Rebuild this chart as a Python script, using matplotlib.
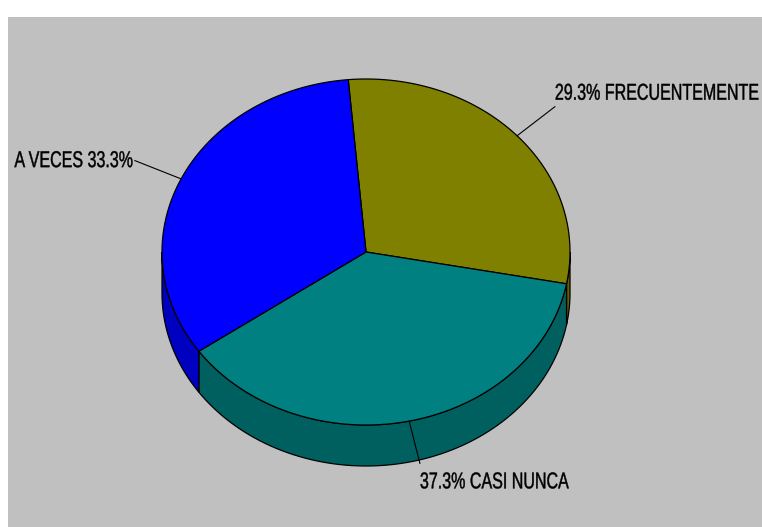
import numpy as np
import matplotlib
matplotlib.use("Agg")
import matplotlib.pyplot as plt
from matplotlib.patches import Polygon, Rectangle
from matplotlib.patheffects import AbstractPathEffect
from matplotlib.transforms import Affine2D

# frequency of each answer, in percent
categories = ["FRECUENTEMENTE", "CASI NUNCA", "A VECES"]
percents = [29.3, 37.3, 33.3]
top_colors = ["#808000", "#008080", "#0000FF"]
side_colors = ["#606000", "#006060", "#0000C0"]

plt.rcParams["font.family"] = ["Liberation Sans", "DejaVu Sans"]


class Narrow(AbstractPathEffect):
    """Squeeze glyphs horizontally around a fixed x (display pixels)."""

    def __init__(self, x0, sx, stroke=0.3):
        super().__init__()
        self.x0 = x0
        self.sx = sx
        self.stroke = stroke

    def draw_path(self, renderer, gc, tpath, affine, rgbFace=None):
        squeeze = Affine2D().translate(-self.x0, 0).scale(self.sx, 1).translate(self.x0, 0)
        gc0 = renderer.new_gc()
        gc0.copy_properties(gc)
        gc0.set_linewidth(self.stroke)
        gc0.set_foreground(rgbFace if rgbFace is not None else "black")
        renderer.draw_path(gc0, tpath, affine + squeeze, rgbFace)
        gc0.restore()


fig = plt.figure(figsize=(7.62, 5.27), dpi=100)
fig.patch.set_facecolor("white")
ax = fig.add_axes([0, 0, 1, 1])
ax.set_xlim(0, 762)
ax.set_ylim(527, 0)
ax.axis("off")

# grey chart area
ax.add_patch(Rectangle((8, 17), 760, 520, facecolor="#C0C0C0", edgecolor="none"))

# pie geometry (pixels)
cx, cy = 366, 252
rx, ry = 204, 173
depth = 41
start = 95.0


def pt(t, r=1.0, dz=0.0):
    t = np.radians(t)
    return cx + r * rx * np.cos(t), cy - r * ry * np.sin(t) + dz


# slice angles, going clockwise from the start
total = sum(percents)
spans = [p / total * 360 for p in percents]
edges = [start]
for s in spans:
    edges.append(edges[-1] - s)

# side walls: only the front half (180..360 deg) shows
for i in range(len(percents)):
    a0, a1 = edges[i + 1], edges[i]  # a0 < a1
    for k in (-720, -360, 0, 360, 720):
        lo = max(a0 + k, 180)
        hi = min(a1 + k, 360)
        if hi <= lo:
            continue
        ts = np.linspace(lo, hi, 80)
        topx, topy = pt(ts)
        botx, boty = pt(ts[::-1], dz=depth)
        poly = np.column_stack([np.r_[topx, botx], np.r_[topy, boty]])
        ax.add_patch(Polygon(poly, closed=True, facecolor=side_colors[i],
                             edgecolor="black", linewidth=0.9))

# top faces
for i in range(len(percents)):
    ts = np.linspace(edges[i], edges[i + 1], 200)
    x, y = pt(ts)
    poly = np.column_stack([np.r_[cx, x], np.r_[cy, y]])
    ax.add_patch(Polygon(poly, closed=True, facecolor=top_colors[i],
                         edgecolor="black", linewidth=0.9))

# labels with leader lines
for i in range(len(percents)):
    mid = (edges[i] + edges[i + 1]) / 2
    x0, y0 = pt(mid)
    x1, y1 = pt(mid, r=1.25)
    ax.plot([x0, x1], [y0, y1], color="black", linewidth=0.8)
    c, s = np.cos(np.radians(mid)), np.sin(np.radians(mid))
    if c < 0:
        txt = f"{categories[i]} {percents[i]:.1f}%"
        ha, tx = "right", x1 - 2
    else:
        txt = f"{percents[i]:.1f}% {categories[i]}"
        ha, tx = "left", x1
    if s > 0.5:
        va, dy = "bottom", -2
    elif s < -0.5:
        va, dy = "top", 7
    else:
        va, dy = "center", 0
    xd = ax.transData.transform((tx, y1))[0]
    ax.text(tx, y1 + dy, txt, ha=ha, va=va, fontsize=16.5, color="black",
            path_effects=[Narrow(xd, 0.7)])

fig.savefig("out.png", dpi=100, facecolor="white")
